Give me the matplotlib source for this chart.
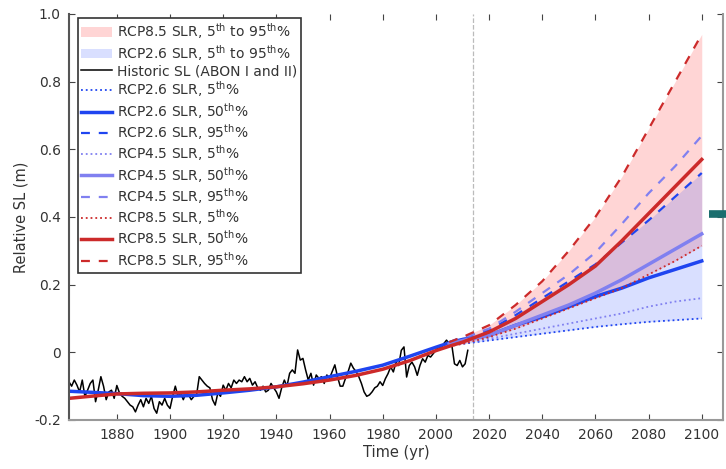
import matplotlib.pyplot as plt
import matplotlib.transforms as mtransforms
import numpy as np

# historic tide gauge record (annual)
obs_years = np.arange(1862, 2013)
obs_sl = [
    -0.087, -0.100, -0.082, -0.097, -0.117, -0.082, -0.131, -0.112, -0.092, -0.082,
    -0.146, -0.112, -0.072, -0.100, -0.140, -0.117, -0.112, -0.136,
    -0.098, -0.120, -0.130, -0.136, -0.146, -0.156, -0.161, -0.176, -0.156, -0.140,
    -0.161, -0.136, -0.151, -0.130, -0.166, -0.180, -0.146, -0.156, -0.136, -0.156,
    -0.166, -0.130, -0.100, -0.130, -0.120, -0.140, -0.120, -0.126, -0.140, -0.130,
    -0.126, -0.072, -0.082, -0.092, -0.100, -0.105, -0.140, -0.156, -0.120, -0.130,
    -0.097, -0.112, -0.092, -0.105, -0.082, -0.092, -0.082, -0.087, -0.072, -0.087,
    -0.077, -0.097, -0.087, -0.105, -0.112, -0.100, -0.117, -0.112, -0.092, -0.105,
    -0.117, -0.136, -0.105, -0.082, -0.100, -0.062, -0.052, -0.062, 0.007, -0.023,
    -0.018, -0.052, -0.082, -0.062, -0.097, -0.067, -0.077, -0.072, -0.092, -0.067,
    -0.077, -0.057, -0.037, -0.072, -0.100, -0.100, -0.077, -0.057, -0.032, -0.047,
    -0.057, -0.072, -0.092, -0.117, -0.130, -0.126, -0.117, -0.105, -0.100, -0.087,
    -0.098, -0.078, -0.063, -0.043, -0.058, -0.029, -0.039, 0.006, 0.016, -0.073,
    -0.039, -0.029, -0.043, -0.068, -0.039, -0.019, -0.029, -0.009, -0.014, -0.004,
    0.006, 0.016, 0.011, 0.026, 0.036, 0.026, 0.021, -0.034, -0.039, -0.024,
    -0.043, -0.034, 0.006,
]

# modelled sea level, hindcast part of the 50th percentile
hind_years = [1862, 1870, 1880, 1890, 1900, 1910, 1920, 1930, 1940, 1950, 1960, 1970, 1980, 1990, 2000]
rcp26_hind = [-0.115, -0.118, -0.122, -0.128, -0.130, -0.127, -0.120, -0.112, -0.102, -0.088, -0.072, -0.056, -0.038, -0.012, 0.015]
rcp85_hind = [-0.136, -0.130, -0.123, -0.121, -0.120, -0.117, -0.112, -0.108, -0.102, -0.093, -0.082, -0.068, -0.050, -0.025, 0.005]

# projections
proj_years = [2005, 2010, 2020, 2030, 2040, 2050, 2060, 2070, 2080, 2090, 2100]
rcp26_p05 = [0.020, 0.025, 0.035, 0.045, 0.055, 0.065, 0.075, 0.083, 0.090, 0.095, 0.100]
rcp26_p50 = [0.028, 0.038, 0.050, 0.080, 0.105, 0.135, 0.165, 0.190, 0.220, 0.245, 0.270]
rcp26_p95 = [0.030, 0.045, 0.065, 0.110, 0.160, 0.210, 0.260, 0.325, 0.390, 0.460, 0.530]
rcp45_p05 = [0.020, 0.027, 0.040, 0.055, 0.070, 0.085, 0.100, 0.115, 0.135, 0.150, 0.160]
rcp45_p50 = [0.025, 0.035, 0.050, 0.080, 0.110, 0.140, 0.175, 0.215, 0.260, 0.305, 0.350]
rcp45_p95 = [0.030, 0.043, 0.070, 0.120, 0.175, 0.230, 0.295, 0.380, 0.470, 0.550, 0.640]
rcp85_p05 = [0.018, 0.025, 0.045, 0.070, 0.100, 0.130, 0.160, 0.190, 0.230, 0.270, 0.315]
rcp85_p50 = [0.018, 0.030, 0.060, 0.100, 0.150, 0.200, 0.255, 0.330, 0.410, 0.490, 0.570]
rcp85_p95 = [0.030, 0.045, 0.080, 0.140, 0.210, 0.300, 0.400, 0.520, 0.660, 0.800, 0.940]

now_year = 2014
marker_level = 0.41

c26 = '#1f45f0'
c45 = '#8080f0'
c85 = '#cc2a2a'

fig = plt.figure(figsize=(7.26, 4.69), dpi=100)
ax = fig.add_axes([0.095, 0.1045, 0.9009, 0.8657])

ax.fill_between(proj_years, rcp85_p05, rcp85_p95, color='#ff3030', alpha=0.2, lw=0,
                label=r'RCP8.5 SLR, 5$^{\rm th}$ to 95$^{\rm th}$%')
ax.fill_between(proj_years, rcp26_p05, rcp26_p95, color='#3050ff', alpha=0.18, lw=0,
                label=r'RCP2.6 SLR, 5$^{\rm th}$ to 95$^{\rm th}$%')
ax.plot(obs_years, obs_sl, color='k', lw=1.1, label='Historic SL (ABON I and II)')

yrs50 = hind_years + proj_years
ax.plot(proj_years, rcp26_p05, color=c26, ls=':', lw=1.3, label=r'RCP2.6 SLR, 5$^{\rm th}$%')
ax.plot(yrs50, rcp26_hind + rcp26_p50, color=c26, ls='-', lw=2.5, label=r'RCP2.6 SLR, 50$^{\rm th}$%')
ax.plot(proj_years, rcp26_p95, color=c26, ls=(0, (4, 4)), lw=1.6, label=r'RCP2.6 SLR, 95$^{\rm th}$%')
ax.plot(proj_years, rcp45_p05, color=c45, ls=':', lw=1.3, label=r'RCP4.5 SLR, 5$^{\rm th}$%')
ax.plot(proj_years, rcp45_p50, color=c45, ls='-', lw=2.5, label=r'RCP4.5 SLR, 50$^{\rm th}$%')
ax.plot(proj_years, rcp45_p95, color=c45, ls=(0, (4, 4)), lw=1.6, label=r'RCP4.5 SLR, 95$^{\rm th}$%')
ax.plot(proj_years, rcp85_p05, color=c85, ls=':', lw=1.3, label=r'RCP8.5 SLR, 5$^{\rm th}$%')
ax.plot(yrs50, rcp85_hind + rcp85_p50, color=c85, ls='-', lw=2.5, label=r'RCP8.5 SLR, 50$^{\rm th}$%')
ax.plot(proj_years, rcp85_p95, color=c85, ls=(0, (4, 4)), lw=1.6, label=r'RCP8.5 SLR, 95$^{\rm th}$%')

ax.axvline(now_year, color='#bbbbbb', ls='--', lw=0.9, zorder=0)

# teal marker just outside the right edge
trans = mtransforms.blended_transform_factory(ax.transAxes, ax.transData)
ax.plot([0.978, 1.01], [marker_level, marker_level], color='#1a6e6e', lw=5.5,
        transform=trans, clip_on=False, solid_capstyle='butt', zorder=5)

ax.set_xlim(1862, 2108)
ax.set_ylim(-0.2, 1.0)
ax.set_xticks(np.arange(1880, 2101, 20))
ax.set_yticks([-0.2, 0, 0.2, 0.4, 0.6, 0.8, 1.0])
ax.set_yticklabels(['-0.2', '0', '0.2', '0.4', '0.6', '0.8', '1.0'])
ax.tick_params(direction='in', length=4, top=True, right=True, labelsize=10,
               labelcolor='#333333', color='#444444', pad=6)
ax.spines['top'].set_visible(False)
ax.spines['left'].set_color('#555555')
ax.spines['left'].set_linewidth(1.5)
ax.spines['bottom'].set_color('#999999')
ax.spines['bottom'].set_linewidth(1.5)
ax.spines['right'].set_color('#999999')
ax.spines['right'].set_linewidth(1.5)

ax.set_xlabel('Time (yr)', fontsize=10.5, color='#333333', labelpad=2)
ax.set_ylabel('Relative SL (m)', fontsize=10.5, color='#333333', labelpad=4)

leg = ax.legend(loc='upper left', bbox_to_anchor=(0.0138, 0.99), borderaxespad=0,
                fontsize=10, handlelength=2.2, handletextpad=0.35, labelspacing=0.1,
                borderpad=0.25, fancybox=False, framealpha=1, edgecolor='#333333')
leg.get_frame().set_linewidth(1.2)
for t in leg.get_texts():
    t.set_color('#333333')

fig.savefig('out.png', dpi=100)
